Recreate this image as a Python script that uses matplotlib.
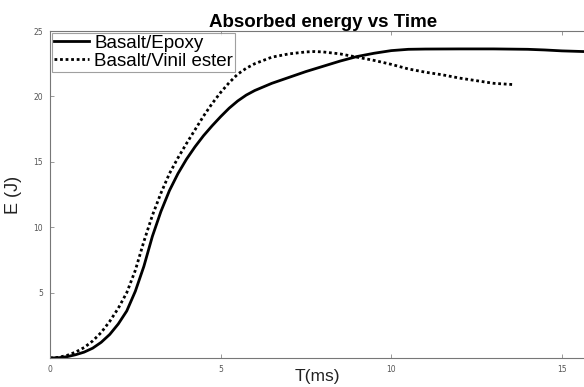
import matplotlib.pyplot as plt

# Basalt/Epoxy (solid)
t_epoxy = [0, 0.25, 0.5, 0.75, 1.0, 1.25, 1.5, 1.75, 2.0, 2.25, 2.5, 2.75, 3.0, 3.25,
           3.5, 3.75, 4.0, 4.25, 4.5, 4.75, 5.0, 5.25, 5.5, 5.75, 6.0, 6.5, 7.0,
           7.5, 8.0, 8.5, 9.0, 9.5, 10.0, 10.5, 11.0, 12.0, 13.0, 14.0, 14.5,
           15.0, 16.0]
e_epoxy = [0, 0.02, 0.1, 0.25, 0.45, 0.75, 1.2, 1.8, 2.6, 3.6, 5.1, 7.0, 9.3, 11.2,
           12.8, 14.1, 15.2, 16.15, 17.0, 17.75, 18.45, 19.1, 19.65, 20.1, 20.45, 21.0, 21.45,
           21.9, 22.3, 22.7, 23.05, 23.3, 23.5, 23.6, 23.62, 23.63, 23.63, 23.6, 23.55,
           23.48, 23.4]

# Basalt/Vinil ester (dotted)
t_vinil = [0, 0.25, 0.5, 0.75, 1.0, 1.25, 1.5, 1.75, 2.0, 2.25, 2.5, 2.75, 3.0, 3.25,
           3.5, 3.75, 4.0, 4.25, 4.5, 4.75, 5.0, 5.25, 5.5, 5.75, 6.0, 6.5, 7.0,
           7.5, 7.75, 8.0, 8.5, 9.0, 9.5, 10.0, 10.5, 11.0, 11.5, 12.0, 12.5,
           13.0, 13.6]
e_vinil = [0, 0.05, 0.2, 0.45, 0.8, 1.3, 1.95, 2.8, 3.8, 5.0, 6.7, 8.9, 10.9, 12.6,
           14.1, 15.3, 16.4, 17.45, 18.5, 19.45, 20.3, 21.05, 21.7, 22.15, 22.5, 23.0, 23.25,
           23.4, 23.43, 23.4, 23.25, 23.0, 22.75, 22.45, 22.1, 21.85, 21.65, 21.4, 21.2,
           21.0, 20.9]

fig = plt.figure(figsize=(5.84, 3.87), dpi=100)
ax = fig.add_axes([50 / 584, 1 - 358 / 387, 546 / 584, 327 / 387])

ax.plot(t_epoxy, e_epoxy, color='black', linewidth=2, label='Basalt/Epoxy')
ax.plot(t_vinil, e_vinil, color='black', linewidth=2, linestyle=(0, (1, 1)),
        label='Basalt/Vinil ester')

ax.set_xlim(0, 16)
ax.set_ylim(0, 25)
ax.set_xticks([0, 5, 10, 15])
ax.set_yticks([5, 10, 15, 20, 25])

for s in ax.spines.values():
    s.set_color('#777777')
    s.set_linewidth(0.8)
ax.tick_params(direction='in', length=3, width=0.6, color='#888888',
               labelsize=5.5, labelcolor='#555555', top=True, right=True, pad=5)

ax.set_title('Absorbed energy vs Time', fontsize=13.5, fontweight='bold',
             family='Liberation Sans', pad=3)
ax.set_xlabel('T(ms)', fontsize=12.5, family='Liberation Sans', color='#222222', labelpad=0)
ax.xaxis.set_label_coords(0.49, -0.034)
ax.set_ylabel('E (J)', fontsize=13, family='Liberation Sans', color='#222222')
ax.yaxis.set_label_coords(-0.052, 0.5)

leg = ax.legend(loc='upper left', prop={'family': 'Liberation Sans', 'size': 13.5},
                frameon=True, fancybox=False, edgecolor='#888888', borderpad=0.1,
                handlelength=1.9, handletextpad=0.25, labelspacing=0.05,
                borderaxespad=0.1)
leg.get_frame().set_linewidth(0.8)

fig.savefig('out.png', dpi=100)
